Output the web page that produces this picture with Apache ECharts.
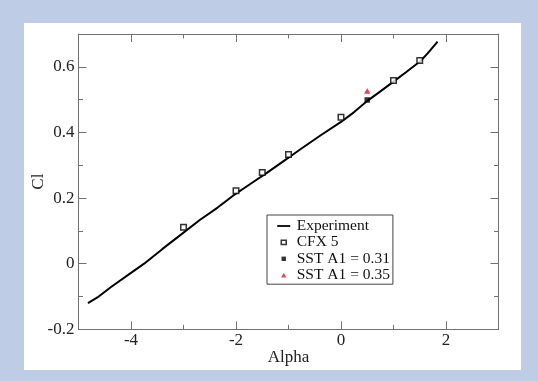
<!DOCTYPE html>
<html>
<head>
<meta charset="utf-8">
<script src="https://cdn.jsdelivr.net/npm/echarts@6/dist/echarts.min.js"></script>
<style>
  html, body { margin: 0; padding: 0; }
  #main { width: 538px; height: 381px; }
</style>
</head>
<body>
<div id="main"></div>
<script>
// Cl vs Alpha: experiment curve and CFX / SST results
var expAlpha = [-4.82, -4.64, -4.38, -4.0, -3.75, -3.4, -3.11, -2.69, -2.35, -2.05, -1.7, -1.42, -1.1, -1.0, -0.78, -0.4, 0.0, 0.25, 0.51, 0.75, 1.0, 1.25, 1.51, 1.65, 1.84];
var expCl = [-0.120, -0.103, -0.071, -0.028, 0.0, 0.045, 0.081, 0.133, 0.171, 0.208, 0.246, 0.276, 0.312, 0.323, 0.348, 0.390, 0.432, 0.462, 0.497, 0.525, 0.555, 0.585, 0.617, 0.641, 0.677];

var cfxAlpha = [-3, -2, -1.5, -1, 0, 1, 1.5];
var cfxCl = [0.111, 0.222, 0.278, 0.333, 0.446, 0.558, 0.619];

var sst31Alpha = [0.5];
var sst31Cl = [0.499];

var sst35Alpha = [0.5];
var sst35Cl = [0.526];

var xMajor = [-4, -2, 0, 2];
var xMinor = [-3, -1, 1];
var yMajor = [-0.2, 0, 0.2, 0.4, 0.6];
var yMinor = [-0.1, 0.1, 0.3, 0.5];

var seriesNames = ['Experiment', 'CFX 5', 'SST A1 = 0.31', 'SST A1 = 0.35'];

var serif = 'Liberation Serif';
var axisGray = '#707070';

function zip(xs, ys) {
  return xs.map(function (x, i) { return [x, ys[i]]; });
}

// one axis = one set of ticks (major or minor), mirrored on both sides of the box
function makeAxis(dim, position, ticks, len, labels, showLine) {
  var ax = {
    type: 'value',
    position: position,
    min: dim === 'x' ? -5 : -0.2,
    max: dim === 'x' ? 3 : 0.7,
    splitLine: { show: false },
    axisLine: { show: showLine, onZero: false, lineStyle: { color: axisGray, width: 1 } },
    axisTick: { show: true, inside: true, length: len, customValues: ticks, lineStyle: { color: axisGray, width: 1 } },
    axisLabel: { show: labels, customValues: ticks, color: '#222', fontFamily: serif, fontSize: 17 }
  };
  if (labels) {
    ax.axisLabel.margin = dim === 'x' ? 3 : 4;
    ax.name = dim === 'x' ? 'Alpha' : 'Cl';
    ax.nameLocation = 'middle';
    ax.nameGap = dim === 'x' ? 19.5 : 31;
    ax.nameMoveOverlap = false;
    ax.nameTextStyle = { color: '#222', fontFamily: serif, fontSize: 17 };
  }
  return ax;
}

// legend icons: the two lone moves pin the box to 16x5 so the marks keep their size
var iconBox = 'path://M0 0M16 5';

var chart = echarts.init(document.getElementById('main'));

var option = {
  animation: false,
  backgroundColor: '#bfcce6',
  graphic: [{
    type: 'rect',
    z: -10,
    shape: { x: 24, y: 23, width: 497, height: 347 },
    style: { fill: '#fff' }
  }],
  grid: { left: 78.5, top: 34, right: 39.5, bottom: 51.7, containLabel: false },
  xAxis: [
    makeAxis('x', 'bottom', xMajor, 8, true, true),
    makeAxis('x', 'bottom', xMinor, 4.5, false, false),
    makeAxis('x', 'top', xMajor, 8, false, true),
    makeAxis('x', 'top', xMinor, 4.5, false, false)
  ],
  yAxis: [
    makeAxis('y', 'left', yMajor, 8, true, true),
    makeAxis('y', 'left', yMinor, 4.5, false, false),
    makeAxis('y', 'right', yMajor, 8, false, true),
    makeAxis('y', 'right', yMinor, 4.5, false, false)
  ],
  legend: {
    orient: 'vertical',
    left: 267,
    top: 215,
    padding: [3, 3, 1, 8],
    itemWidth: 16,
    itemHeight: 5,
    itemGap: 0.4,
    backgroundColor: '#fff',
    borderColor: '#444',
    borderWidth: 1,
    textStyle: { color: '#111', fontFamily: serif, fontSize: 15.5, lineHeight: 16 },
    data: [
      { name: seriesNames[0], icon: iconBox + 'M1.5 1.6H14.5V3.4H1.5Z' },
      { name: seriesNames[1], icon: iconBox + 'M5.5 0.3H10.5V4.7H5.5Z', itemStyle: { color: '#fff', borderColor: '#000', borderWidth: 1.5 } },
      { name: seriesNames[2], icon: iconBox + 'M5.8 0.3H10.2V4.7H5.8Z' },
      { name: seriesNames[3], icon: iconBox + 'M8 0.3L10.7 4.7H5.3Z' }
    ]
  },
  series: [
    {
      name: seriesNames[0],
      type: 'line',
      data: zip(expAlpha, expCl),
      symbol: 'none',
      color: '#000',
      lineStyle: { color: '#000', width: 2 },
      z: 2
    },
    {
      name: seriesNames[1],
      type: 'scatter',
      data: zip(cfxAlpha, cfxCl),
      symbol: 'rect',
      symbolSize: 5.5,
      itemStyle: { color: '#fff', borderColor: '#000', borderWidth: 1.5 },
      z: 3
    },
    {
      name: seriesNames[2],
      type: 'scatter',
      data: zip(sst31Alpha, sst31Cl),
      symbol: 'rect',
      symbolSize: 5.5,
      itemStyle: { color: '#000' },
      z: 4
    },
    {
      name: seriesNames[3],
      type: 'scatter',
      data: zip(sst35Alpha, sst35Cl),
      symbol: 'triangle',
      symbolSize: [6.5, 5.5],
      itemStyle: { color: '#e0142a' },
      z: 4
    }
  ]
};

chart.setOption(option);
</script>
</body>
</html>
